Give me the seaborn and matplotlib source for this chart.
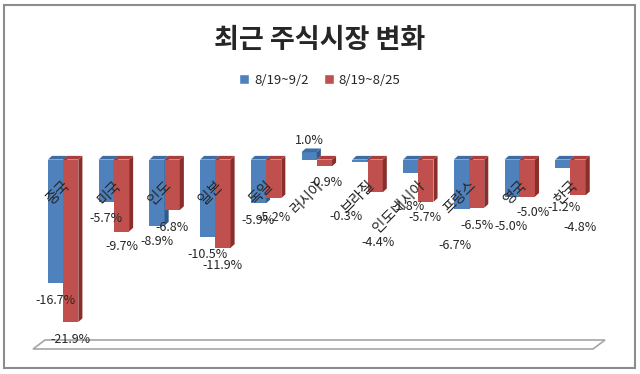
import matplotlib
matplotlib.use("Agg")
import matplotlib.pyplot as plt
from matplotlib.patches import Polygon, Rectangle
import seaborn as sns
import pandas as pd

# ---- data ----
countries = ["중국", "미국", "인도", "일본", "독일", "러시아", "브라질", "인도네시아", "프랑스", "영국", "한국"]
series_names = ["8/19~9/2", "8/19~8/25"]
values_0902 = [-16.7, -5.7, -8.9, -10.5, -5.9, 1.0, -0.3, -1.8, -6.7, -5.0, -1.2]
values_0825 = [-21.9, -9.7, -6.8, -11.9, -5.2, -0.9, -4.4, -5.7, -6.5, -5.0, -4.8]
title = "최근 주식시장 변화"

# ---- layout: value-label nudges (pixels) as placed in the reference ----
label_gap_px = [[17, 17, 16, 17, 17, 12, 55, 34, 36, 30, 39],
                [17, 15, 17, 18, 19, 16, 50, 16, 18, 16, 32]]
label_dx_px = [[0, 0, 0, 0, 0, 0, -14, -3, -6, -1, 1],
               [0, 0, 0, 0, 0, 2, 3, -1, 0, 6, 2]]

df = pd.DataFrame({
    "country": countries * 2,
    "value": values_0902 + values_0825,
    "period": [series_names[0]] * len(countries) + [series_names[1]] * len(countries),
})

sns.set_style("white")
plt.rcParams["font.family"] = ["Noto Sans CJK KR", "DejaVu Sans"]

front = ["#4F81BD", "#C0504D"]
side = ["#2F5A8C", "#8A2E2C"]
top = ["#3E6DA6", "#A83F3C"]

fig = plt.figure(figsize=(6.4, 3.74), dpi=100)
ax = fig.add_axes([0.059, 0.0775, 0.872, 0.589])
ax.set_zorder(1)

sns.barplot(data=df, x="country", y="value", hue="period", order=countries,
            hue_order=series_names, palette=front, saturation=1, width=0.6,
            dodge=True, ax=ax, legend=True)

ax.set_xlim(-0.5, len(countries) - 0.5)
ax.set_ylim(-25, 4.7)

# 3D effect
dx = 0.08
dy = 0.5
for k, cont in enumerate(ax.containers):
    for j, bar in enumerate(cont.patches):
        bar.set_zorder(2 + k)
        bar.set_edgecolor("none")
        x = bar.get_x()
        w = bar.get_width()
        y0 = bar.get_y()
        h = bar.get_height()
        ylo, yhi = min(y0, y0 + h), max(y0, y0 + h)
        sp = Polygon([(x + w, ylo), (x + w + dx, ylo + dy), (x + w + dx, yhi + dy), (x + w, yhi)],
                     closed=True, facecolor=side[k], edgecolor="none", zorder=2 + k)
        tp = Polygon([(x, yhi), (x + dx, yhi + dy), (x + w + dx, yhi + dy), (x + w, yhi)],
                     closed=True, facecolor=top[k], edgecolor="none", zorder=2 + k)
        ax.add_patch(sp)
        ax.add_patch(tp)
        cx = x + w / 2
        v = h
        gap = label_gap_px[k][j]
        ndx = label_dx_px[k][j]
        if v >= 0:
            ax.annotate(f"{v:.1f}%", xy=(cx, yhi), xytext=(ndx, gap), textcoords="offset pixels",
                        ha="center", va="center", fontsize=9, zorder=6, annotation_clip=False)
        else:
            ax.annotate(f"{v:.1f}%", xy=(cx, ylo), xytext=(ndx, -gap), textcoords="offset pixels",
                        ha="center", va="center", fontsize=9, zorder=6, annotation_clip=False)

# category labels at the zero line
for i, c in enumerate(countries):
    ax.annotate(c, xy=(i, 0), xytext=(0, -19), textcoords="offset pixels",
                ha="right", va="top", rotation=45, rotation_mode="anchor",
                fontsize=10.5, zorder=7)

ax.set_xticks([])
ax.set_yticks([])
ax.set_xlabel("")
ax.set_ylabel("")
for s in ax.spines.values():
    s.set_visible(False)
ax.patch.set_alpha(0)

# legend
handles, labels = ax.get_legend_handles_labels()
ax.legend(handles, labels, loc="center", bbox_to_anchor=(0.5, 0.786),
          bbox_transform=fig.transFigure, ncol=2, frameon=False, fontsize=9.5,
          handlelength=0.75, handleheight=0.75, columnspacing=1.2, handletextpad=0.35)

fig.text(0.5, 0.893, title, ha="center", va="center", fontsize=19.5, fontweight="bold")

# floor
W, H = 640, 374
floor = Polygon([(33 / W, 1 - 349 / H), (593 / W, 1 - 349 / H), (605 / W, 1 - 340 / H), (45 / W, 1 - 340 / H)],
                closed=True, transform=fig.transFigure, facecolor="white", edgecolor="#A6A6A6",
                linewidth=1.2, zorder=-1)
fig.patches.append(floor)

# figure border
border = Rectangle((4 / W, 1 - 368 / H), 631 / W, 363 / H, transform=fig.transFigure,
                   facecolor="none", edgecolor="#8C8C8C", linewidth=1.5, zorder=-1)
fig.patches.append(border)

fig.savefig("out.png", dpi=100)
